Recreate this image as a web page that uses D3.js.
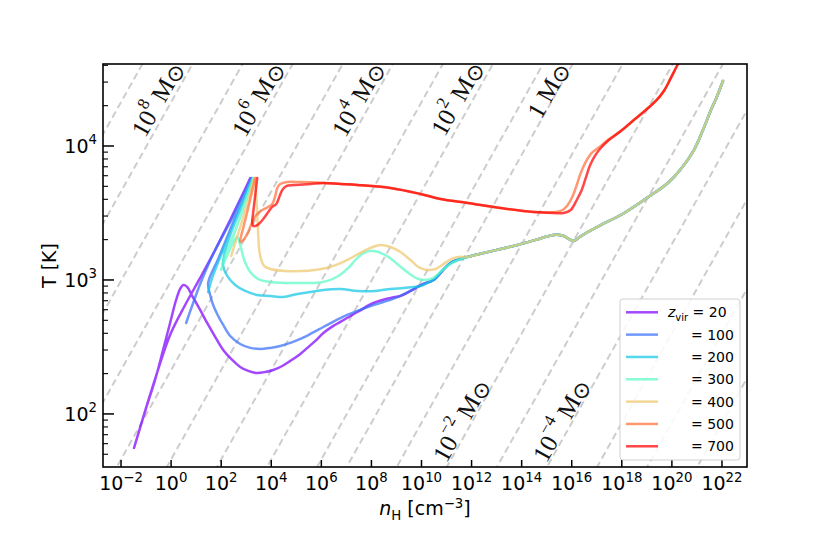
<!DOCTYPE html>
<html><head><meta charset="utf-8">
<script src="https://cdn.jsdelivr.net/npm/d3@7"></script>
<style>body{margin:0;background:#fff}svg{display:block}</style>
</head><body>
<svg id="c" width="830" height="534"></svg>
<script>
// ---------- data (log10 nH [cm^-3], log10 T [K]) ----------
const zvirValues = ["20","100","200","300","400","500","700"];
const seriesColors = ["#8000ff","#376ff9","#12c7e6","#5bf9c7","#edc76f","#ff6f39","#ff0000"];
const xTickExponents = [-2,0,2,4,6,8,10,12,14,16,18,20,22];
const yTickExponents = [2,3,4];

// shared high-density track of the z <= 400 runs
const trunk = [[11.84,3.172],[12.48,3.201],[13.16,3.231],[13.84,3.261],[14.56,3.299],[15.28,3.336],[15.68,3.328],[15.88,3.306],[16.08,3.291],[16.32,3.321],[16.64,3.358],[17.16,3.41],[17.96,3.485],[18.88,3.597],[19.84,3.724],[20.36,3.828],[20.88,3.97],[21.24,4.119],[21.56,4.269],[21.76,4.351],[22.04,4.485]];

const z20 = [[3.16,3.761],[2.88,3.649],[2.36,3.448],[1.76,3.224],[1.16,3.015],[0.56,2.813],[-0.04,2.59],[-0.84,2.142],[-1.48,1.746],[-1.24,1.896],[-0.96,2.067],[-0.64,2.254],[-0.32,2.478],[-0.04,2.679],[0.2,2.851],[0.36,2.933],[0.48,2.963],[0.64,2.948],[0.84,2.881],[1.16,2.776],[1.44,2.679],[1.76,2.575],[2.08,2.478],[2.44,2.403],[2.76,2.351],[3.08,2.321],[3.4,2.306],[3.76,2.313],[4.08,2.328],[4.44,2.358],[4.76,2.396],[5.16,2.448],[5.44,2.493],[5.76,2.545],[6.08,2.604],[6.48,2.657],[6.76,2.687],[7.44,2.761],[8.08,2.828],[8.76,2.866],[9.16,2.881],[9.56,2.918],[9.84,2.948],[10.08,2.97],[10.48,3.0],[11.16,3.127]];
const z100 = [[0.6,2.679],[0.88,2.828],[1.16,2.97],[1.48,3.112],[1.76,3.224],[2.08,3.336],[2.4,3.448],[2.68,3.56],[2.96,3.664],[3.2,3.761],[2.76,3.56],[2.32,3.358],[1.88,3.157],[1.48,2.978],[1.56,2.888],[1.68,2.813],[1.84,2.746],[2.08,2.664],[2.36,2.582],[2.76,2.522],[3.16,2.493],[3.56,2.485],[3.96,2.493],[4.36,2.507],[4.76,2.53],[5.16,2.56],[5.56,2.597],[6.08,2.649],[6.76,2.716],[7.44,2.769],[8.08,2.813],[8.76,2.851],[9.16,2.881],[9.56,2.918],[9.84,2.948],[10.08,2.97],[10.48,3.0],[11.16,3.127]];
const z200 = [[1.48,2.91],[1.64,3.015],[1.88,3.134],[2.16,3.261],[2.48,3.396],[2.76,3.522],[3.0,3.634],[3.24,3.761],[2.92,3.612],[2.6,3.463],[2.32,3.313],[2.12,3.187],[2.08,3.104],[2.24,3.03],[2.56,2.963],[2.96,2.918],[3.44,2.888],[3.96,2.881],[4.48,2.873],[5.04,2.896],[5.56,2.91],[6.08,2.925],[6.76,2.933],[7.44,2.918],[8.16,2.918],[8.76,2.933],[9.28,2.94],[9.68,2.948],[9.96,2.955],[10.24,2.978],[10.48,3.0],[11.16,3.127]];
const z300 = [[2.0,3.075],[2.16,3.164],[2.36,3.261],[2.6,3.388],[2.84,3.507],[3.04,3.627],[3.28,3.761],[3.0,3.597],[2.68,3.433],[2.36,3.276],[2.12,3.164],[2.04,3.104],[2.28,3.201],[2.48,3.276],[2.64,3.321],[2.76,3.261],[2.92,3.149],[3.16,3.06],[3.48,3.007],[3.96,2.985],[4.56,2.978],[5.16,2.978],[5.76,2.978],[6.24,2.993],[6.68,3.03],[7.08,3.09],[7.4,3.157],[7.68,3.201],[7.96,3.216],[8.28,3.209],[8.68,3.172],[9.08,3.112],[9.48,3.052],[9.88,3.007],[10.16,3.0],[10.48,3.015],[10.84,3.075],[11.16,3.119],[11.48,3.149]];
const z400 = [[2.4,3.179],[2.6,3.299],[2.8,3.418],[3.0,3.545],[3.16,3.649],[3.32,3.761],[3.4,3.634],[3.44,3.485],[3.48,3.336],[3.52,3.224],[3.6,3.149],[3.72,3.104],[3.96,3.082],[4.56,3.067],[5.16,3.067],[5.76,3.075],[6.36,3.097],[6.96,3.142],[7.48,3.194],[7.96,3.239],[8.36,3.261],[8.76,3.246],[9.16,3.209],[9.56,3.149],[9.88,3.097],[10.2,3.075],[10.56,3.082],[10.88,3.119],[11.2,3.157],[11.48,3.172]];
const z500 = [[3.36,3.761],[3.2,3.634],[3.04,3.507],[2.88,3.388],[2.76,3.284],[2.92,3.306],[3.08,3.358],[3.24,3.433],[3.4,3.485],[3.64,3.522],[3.88,3.545],[4.04,3.567],[4.16,3.627],[4.24,3.687],[4.36,3.716],[4.64,3.731],[5.16,3.731],[6.08,3.724],[7.44,3.709],[8.76,3.687],[9.96,3.642],[10.76,3.604],[11.84,3.575],[13.16,3.537],[14.48,3.507],[15.36,3.507],[15.64,3.522],[15.84,3.56],[16.04,3.627],[16.2,3.709],[16.36,3.799],[16.56,3.881],[16.8,3.948],[17.16,4.0],[17.44,4.045],[17.96,4.112],[18.48,4.194],[18.96,4.269],[19.36,4.336],[19.68,4.41],[19.92,4.493],[20.12,4.567],[20.28,4.627],[20.4,4.679]];
const z700 = [[3.44,3.761],[3.36,3.634],[3.28,3.507],[3.24,3.433],[3.28,3.403],[3.44,3.41],[3.68,3.455],[3.88,3.507],[4.04,3.545],[4.2,3.567],[4.32,3.619],[4.44,3.672],[4.6,3.701],[4.88,3.709],[5.56,3.716],[6.08,3.724],[6.76,3.716],[7.44,3.709],[8.76,3.687],[9.96,3.642],[10.76,3.604],[11.84,3.575],[13.16,3.537],[14.48,3.507],[15.28,3.5],[15.68,3.5],[15.96,3.522],[16.2,3.597],[16.4,3.672],[16.56,3.761],[16.72,3.851],[16.92,3.925],[17.16,3.985],[17.44,4.037],[17.96,4.112],[18.48,4.194],[18.96,4.269],[19.36,4.336],[19.68,4.41],[19.92,4.493],[20.12,4.567],[20.28,4.627],[20.4,4.679]];
const seriesTracks = [z20.concat(trunk), z100.concat(trunk), z200.concat(trunk), z300.concat(trunk), z400.concat(trunk), z500, z700];

// Jeans-mass guide lines: log10 T = logN/3 + 2/3 log10 M + offset
const jeansLogMHigh = [1,2,3,4,5,6,7,8,9,10];
const jeansLogMLow = [0,-1,-2,-3,-4,-5,-6,-7,-8];
const jeansOffsetHigh = -1.006, jeansOffsetLow = -0.733;
const jeansLabelExp = ["8","6","4","2","","−2","−4"];
const jeansLabelLogN = [-0.56,3.44,7.44,11.4,15.04,11.56,15.56];
const jeansLabelLogT = [4.351,4.351,4.351,4.358,4.418,1.955,1.955];

// ---------- drawing ----------
const svg = d3.select("#c");
const L=103,R=747,T=64,B=467;
const x = d3.scaleLog().domain([10**-2.72, 1e23]).range([L,R]);
const y = d3.scaleLog().domain([10**1.604, 10**4.612]).range([B,T]);
const px = d => x(10**d[0]), py = d => y(10**d[1]);

svg.append("defs").append("clipPath").attr("id","clip")
  .append("rect").attr("x",L).attr("y",T).attr("width",R-L).attr("height",B-T);
const plot = svg.append("g").attr("clip-path","url(#clip)");

const jeansLine = d3.line().x(px).y(py);
function drawJeans(list, off){
  list.forEach(lm=>{
    const pts = [-6,26].map(ln=>[ln, ln/3 + 2*lm/3 + off]);
    plot.append("path").attr("d", jeansLine(pts)).attr("fill","none")
      .attr("stroke","#cdcdcd").attr("stroke-width",2).attr("stroke-dasharray","7,4");
  });
}
drawJeans(jeansLogMHigh, jeansOffsetHigh);
drawJeans(jeansLogMLow, jeansOffsetLow);

// Jeans labels
const ang = -Math.atan((y(10)-y(100)) / (x(1e3)-x(1))) * 180/Math.PI;
jeansLabelExp.forEach((e,i)=>{
  const cx = x(10**jeansLabelLogN[i]), cy = y(10**jeansLabelLogT[i]);
  const t = svg.append("text").attr("transform",`translate(${cx},${cy}) rotate(${ang})`)
    .attr("text-anchor","middle").attr("dominant-baseline","central")
    .attr("font-family","'Liberation Serif','DejaVu Serif',serif").attr("font-size",25).attr("fill","#111");
  if(e===""){ t.append("tspan").text("1 M"); }
  else { t.append("tspan").text("10"); t.append("tspan").attr("dy",-10).attr("font-size",17).text(e); t.append("tspan").attr("dy",10).text(" M"); }
  t.append("tspan").attr("dy",3).attr("font-size",22).attr("font-family","'DejaVu Sans',sans-serif").text("⊙");
});

// series
const curve = d3.line().x(px).y(py).curve(d3.curveCatmullRom.alpha(0.5));
seriesTracks.forEach((tr,i)=>{
  plot.append("path").attr("d",curve(tr)).attr("fill","none")
    .attr("stroke",seriesColors[i]).attr("stroke-opacity",0.72).attr("stroke-width",2.5)
    .attr("stroke-linejoin","round").attr("stroke-linecap","round");
});

// frame
svg.append("rect").attr("x",L).attr("y",T).attr("width",R-L).attr("height",B-T)
  .attr("fill","none").attr("stroke","#000").attr("stroke-width",1.6);

const font = "'DejaVu Sans',sans-serif";
// x ticks
xTickExponents.forEach(e=>{
  const xx = x(10**e);
  svg.append("line").attr("x1",xx).attr("x2",xx).attr("y1",B).attr("y2",B-7).attr("stroke","#000").attr("stroke-width",1.5);
  const t = svg.append("text").attr("x",xx).attr("y",490).attr("text-anchor","middle")
    .attr("font-family",font).attr("font-size",19).attr("fill","#000");
  t.append("tspan").text("10");
  t.append("tspan").attr("dy",-8.5).attr("font-size",13.3).text(String(e).replace("-","−"));
});
// y ticks
yTickExponents.forEach(e=>{
  const yy = y(10**e);
  svg.append("line").attr("x1",L).attr("x2",L+11).attr("y1",yy).attr("y2",yy).attr("stroke","#000").attr("stroke-width",1.5);
  const t = svg.append("text").attr("x",97).attr("y",yy+7).attr("text-anchor","end")
    .attr("font-family",font).attr("font-size",19).attr("fill","#000");
  t.append("tspan").text("10");
  t.append("tspan").attr("dy",-8.5).attr("font-size",13.3).text(String(e));
});
const [ylo,yhi] = y.domain();
for(let k=1;k<=4;k++) for(let d=2;d<=9;d++){
  const v=d*10**k; if(v<ylo||v>yhi) continue;
  svg.append("line").attr("x1",L).attr("x2",L+5).attr("y1",y(v)).attr("y2",y(v)).attr("stroke","#000").attr("stroke-width",1.1);
}

// axis labels
const xl = svg.append("text").attr("x",(L+R)/2).attr("y",515).attr("text-anchor","middle")
  .attr("font-family",font).attr("font-size",19);
xl.append("tspan").attr("font-style","italic").text("n");
xl.append("tspan").attr("dy",5).attr("font-size",13.3).text("H");
xl.append("tspan").attr("dy",-5).text(" [cm");
xl.append("tspan").attr("dy",-7.5).attr("font-size",13.3).text("−3");
xl.append("tspan").attr("dy",7.5).text("]");
svg.append("text").attr("transform",`translate(56,${(T+B)/2}) rotate(-90)`).attr("text-anchor","middle")
  .attr("font-family",font).attr("font-size",19).text("T [K]");

// legend
const lg = svg.append("g");
lg.append("rect").attr("x",620).attr("y",299).attr("width",120).attr("height",161).attr("rx",3)
  .attr("fill","#fff").attr("fill-opacity",0.85).attr("stroke","#d0d0d0").attr("stroke-width",1);
zvirValues.forEach((z,i)=>{
  const yy = 312.3 + i*22.33;
  lg.append("line").attr("x1",626).attr("x2",658).attr("y1",yy).attr("y2",yy)
    .attr("stroke",seriesColors[i]).attr("stroke-opacity",0.72).attr("stroke-width",2.5);
  const t = lg.append("text").attr("y",yy+5).attr("font-family",font).attr("font-size",14);
  if(i===0){
    t.attr("x",668);
    t.append("tspan").attr("font-style","italic").text("z");
    t.append("tspan").attr("dy",3.5).attr("font-size",10).text("vir");
    t.append("tspan").attr("dy",-3.5).text(" = "+z);
  } else {
    t.attr("x",691).text("= "+z);
  }
});
</script>
</body></html>
